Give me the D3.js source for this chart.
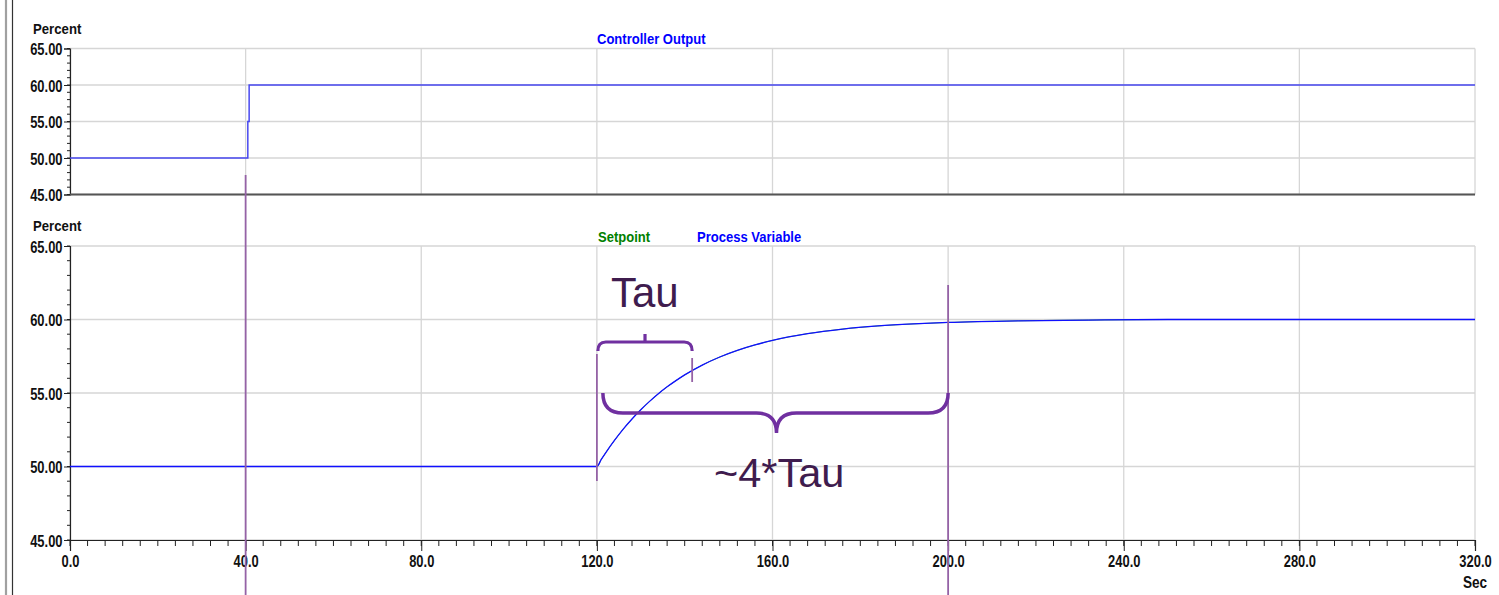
<!DOCTYPE html>
<html>
<head>
<meta charset="utf-8">
<script src="https://cdn.jsdelivr.net/npm/d3@7"></script>
<style>
  body { margin: 0; background: #fff; }
  svg { display: block; }
  .lbl { font-family: "Liberation Sans", Arial, sans-serif; font-weight: bold; }
</style>
</head>
<body>
<svg id="chart" width="1499" height="595"></svg>
<script>
// ---- data ----
const xTicks = [0, 40, 80, 120, 160, 200, 240, 280, 320];
const yTicks = [45, 50, 55, 60, 65];
const coTime  = [0, 40.5, 40.5, 40.8, 40.8, 320];
const coValue = [50, 50, 55, 55, 60, 60];
const pvTime  = [0, 120, 121, 122, 124, 126, 128, 130, 132, 134, 136, 138, 140, 144, 148, 152, 156, 160, 168, 176, 184, 192, 200, 216, 232, 250, 320];
const pvValue = [50, 50, 50.48, 50.93, 51.77, 52.54, 53.23, 53.86, 54.43, 54.95, 55.42, 55.84, 56.23, 56.9, 57.45, 57.9, 58.27, 58.58, 59.04, 59.35, 59.56, 59.70, 59.80, 59.91, 59.96, 60, 60];
const spValue = pvValue.slice();   // setpoint tracks PV (hidden beneath it)
const markerTimes = [40, 120, 200];
const tauStart = 120, tauEnd = 141.7;

(function () {
const svg = d3.select("#chart");
const W = 1499, H = 595;
svg.append("rect").attr("width", W).attr("height", H).attr("fill", "#fff");

// condense bold labels (narrow font look)
function narrow(sel, f) {
  sel.each(function () {
    const L = this.getComputedTextLength();
    d3.select(this).attr("textLength", L * f).attr("lengthAdjust", "spacingAndGlyphs");
  });
}

svg.append("line").attr("x1", 6).attr("x2", 6).attr("y1", 0).attr("y2", H).attr("stroke", "#a0a0a0").attr("stroke-width", 2.2);
svg.append("line").attr("x1", 12.5).attr("x2", 12.5).attr("y1", 0).attr("y2", H).attr("stroke", "#333").attr("stroke-width", 1.2);

const x = d3.scaleLinear().domain([0, 320]).range([70, 1475]);
const yTop = d3.scaleLinear().domain([45, 65]).range([194.5, 48.5]);
const yBot = d3.scaleLinear().domain([45, 65]).range([540, 246]);

const gridC = "#d6d6d6";
function panel(y) {
  const g = svg.append("g");
  g.selectAll(".hg").data(yTicks).enter().append("line")
    .attr("x1", x(0)).attr("x2", x(320))
    .attr("y1", d => y(d)).attr("y2", d => y(d))
    .attr("stroke", gridC).attr("stroke-width", 1.3);
  g.selectAll(".vg").data(xTicks).enter().append("line")
    .attr("x1", d => x(d)).attr("x2", d => x(d))
    .attr("y1", y(45)).attr("y2", y(65))
    .attr("stroke", gridC).attr("stroke-width", 1.3);
  const yAxis = d3.axisLeft(y).tickValues(yTicks).tickSize(6).tickFormat(d3.format(".2f"));
  const ya = g.append("g").attr("transform", `translate(${x(0)},0)`).call(yAxis);
  ya.select(".domain").attr("stroke", "#222").attr("stroke-width", 1.2);
  ya.selectAll(".tick line").attr("stroke", "#222");
  const tt = ya.selectAll(".tick text").attr("class", "lbl").attr("font-size", 17).attr("fill", "#111").attr("x", -7.5).attr("dy", "0.36em");
  narrow(tt, 0.76);
  g.selectAll(".my").data(d3.range(45, 65.01, 1)).enter().append("line")
    .attr("x1", x(0) - 3).attr("x2", x(0))
    .attr("y1", d => y(d)).attr("y2", d => y(d))
    .attr("stroke", "#222");
  const t = g.append("text").attr("class", "lbl").attr("x", 33).attr("y", y(65) - 15)
    .attr("font-size", 15.5).attr("fill", "#111").text("Percent");
  narrow(t, 0.85);
  return g;
}

panel(yTop);
panel(yBot);

svg.append("line").attr("x1", x(0)).attr("x2", x(320)).attr("y1", yTop(45)).attr("y2", yTop(45))
  .attr("stroke", "#555").attr("stroke-width", 2);

const xAxis = d3.axisBottom(x).tickValues(xTicks).tickSize(11).tickFormat(d3.format(".1f"));
const xa = svg.append("g").attr("transform", `translate(0,${yBot(45)})`).call(xAxis);
xa.select(".domain").attr("stroke", "#222").attr("stroke-width", 1.2);
xa.selectAll(".tick line").attr("stroke", "#222");
narrow(xa.selectAll(".tick text").attr("class", "lbl").attr("font-size", 17).attr("fill", "#111").attr("y", 15).attr("dy", "0.71em"), 0.76);
svg.selectAll(".mx").data(d3.range(0, 320.01, 4)).enter().append("line")
  .attr("x1", d => x(d)).attr("x2", d => x(d))
  .attr("y1", yBot(45)).attr("y2", yBot(45) + 6)
  .attr("stroke", "#222");
narrow(svg.append("text").attr("class", "lbl").attr("x", x(320)).attr("y", 588).attr("text-anchor", "middle")
  .attr("font-size", 17).attr("fill", "#111").text("Sec"), 0.8);

narrow(svg.append("text").attr("class", "lbl").attr("x", 597).attr("y", 44).attr("font-size", 15.5).attr("fill", "#0000ff").text("Controller Output"), 0.84);
narrow(svg.append("text").attr("class", "lbl").attr("x", 598).attr("y", 242).attr("font-size", 15.5).attr("fill", "#008000").text("Setpoint"), 0.84);
narrow(svg.append("text").attr("class", "lbl").attr("x", 697).attr("y", 242).attr("font-size", 15.5).attr("fill", "#0000ff").text("Process Variable"), 0.84);

const coData = coTime.map((t, i) => [t, coValue[i]]);
const pvData = pvTime.map((t, i) => [t, pvValue[i]]);
const spData = pvTime.map((t, i) => [t, spValue[i]]);
svg.append("path").attr("d", d3.line().x(d => x(d[0])).y(d => yTop(d[1]))(coData))
  .attr("fill", "none").attr("stroke", "#4848f0").attr("stroke-width", 1.5);
const lineB = d3.line().x(d => x(d[0])).y(d => yBot(d[1])).curve(d3.curveMonotoneX);
svg.append("path").attr("d", lineB(spData)).attr("fill", "none").attr("stroke", "#20a020").attr("stroke-width", 0.8);
svg.append("path").attr("d", lineB(pvData)).attr("fill", "none").attr("stroke", "#1010ff").attr("stroke-width", 1.3);

const annC = "#9562a6";
const vlines = [
  { t: markerTimes[0], y1: 175, y2: H },
  { t: markerTimes[1], y1: 354, y2: 481 },
  { t: markerTimes[2], y1: 285, y2: H },
  { t: tauEnd, y1: 358, y2: 382 }
];
svg.selectAll(".vl").data(vlines).enter().append("line")
  .attr("x1", d => x(d.t)).attr("x2", d => x(d.t))
  .attr("y1", d => d.y1).attr("y2", d => d.y2)
  .attr("stroke", annC).attr("stroke-width", 1.8);

const braceC = "#7030a0";
const ta = x(tauStart) + 1, tb = x(tauEnd), tm = (ta + tb) / 2, ty = 342;
svg.append("path")
  .attr("d", `M${ta},351 Q${ta},${ty} ${ta + 8},${ty} L${tb - 8},${ty} Q${tb},${ty} ${tb},351 M${tm},${ty} L${tm},334`)
  .attr("fill", "none").attr("stroke", braceC).attr("stroke-width", 3.2);
const fa = x(tauStart) + 6, fb = x(markerTimes[2]), fm = (fa + fb) / 2 + 1, bTop = 393, bMid = 413, bPt = 433;
svg.append("path")
  .attr("d", `M${fa},${bTop} Q${fa},${bMid} ${fa + 20},${bMid} L${fm - 20},${bMid} Q${fm},${bMid} ${fm},${bPt} Q${fm},${bMid} ${fm + 20},${bMid} L${fb - 20},${bMid} Q${fb},${bMid} ${fb},${bTop}`)
  .attr("fill", "none").attr("stroke", braceC).attr("stroke-width", 3.5);

svg.append("text").attr("x", 611).attr("y", 307).attr("font-family", "Liberation Sans, Arial, sans-serif")
  .attr("font-size", 42).attr("fill", "#3f1c4e").text("Tau");
svg.append("text").attr("x", 714).attr("y", 487).attr("font-family", "Liberation Sans, Arial, sans-serif")
  .attr("font-size", 41.5).attr("fill", "#3f1c4e").text("~4*Tau");
})();
</script>
</body>
</html>
